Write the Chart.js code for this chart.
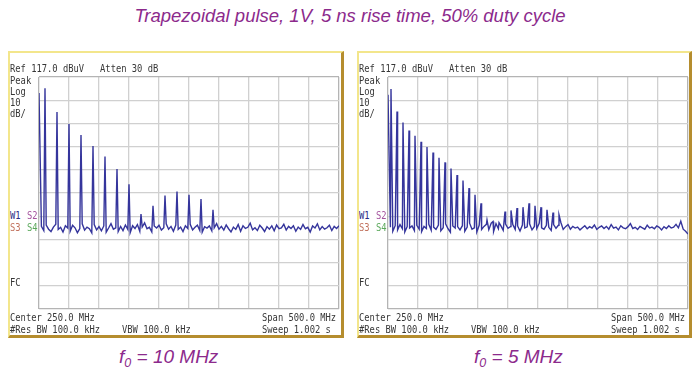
<!DOCTYPE html>
<html>
<head>
<meta charset="utf-8">
<script src="https://cdn.jsdelivr.net/npm/chart.js@4.4.1/dist/chart.umd.min.js"></script>
<style>
  body { margin: 0; background: #fff; }
  #page { position: relative; width: 700px; height: 385px; overflow: hidden; background: #fff; }
  .title { position: absolute; left: 0; width: 700px; top: 5px; text-align: center;
           font: italic 18.5px "Liberation Sans", Arial, sans-serif; color: #8c2a8c; }
  .fzero { position: absolute; top: 346px; font: italic 19px "Liberation Sans", Arial, sans-serif;
           color: #8c2a8c; white-space: pre; }
  .fzero sub { font-size: 12.5px; vertical-align: -4px; }
  .panel { position: absolute; top: 51px; height: 287px; box-sizing: border-box; background: #fff;
           border-top: 2px solid #f3e68c; border-left: 2px solid #f3e68c;
           border-right: 3px solid #b58d2e; border-bottom: 3px solid #b58d2e; }
  .plot { position: absolute; top: 73px; width: 308px; height: 240px; }
  .t { position: absolute; font: 8.8px "DejaVu Sans Mono", monospace; color: #363636;
       white-space: pre; line-height: 10px; transform: scaleY(1.15); transform-origin: left center; }
</style>
</head>
<body>
<div id="page">
  <div class="title">Trapezoidal pulse, 1V, 5 ns rise time, 50% duty cycle</div>
  <div class="panel" style="left:8px; width:336px;"></div>
  <div class="panel" style="left:357px; width:335px;"></div>
  <div class="plot" style="left:35px;"><canvas id="left"></canvas></div>
  <div class="plot" style="left:384px;"><canvas id="right"></canvas></div>
  <div class="fzero" style="left:119px;">f<sub>0</sub> = 10 MHz</div>
  <div class="fzero" style="left:474px;">f<sub>0</sub> = 5 MHz</div>
</div>
<script>
// frequency axis 0..500 MHz, 10 div; level axis 17..117 dBuV, 10 dB/div
var xTicks = [0, 50, 100, 150, 200, 250, 300, 350, 400, 450, 500];
var yTicks = [17, 27, 37, 47, 57, 67, 77, 87, 97, 107, 117];
var floorStep = 4; // MHz between noise floor samples, first one at 4 MHz

// f0 = 10 MHz: odd harmonics (plus LO feedthrough at 0)
var leftSpikeFreq = [0, 10, 30, 50, 70, 90, 110, 130, 150, 170, 190, 210, 230, 250, 270, 290];
var leftSpikeLevel = [110.1, 112.2, 101.9, 96.7, 92.0, 87.3, 82.7, 77.3, 70.8, 57.9, 61.5, 65.9, 67.6, 66.2, 64.4, 59.8];
var leftFloor = [
    52.6, 50.8, 53.2, 51.4, 50.4, 52.3, 53.5, 51.3, 52.2, 50.2,
    52.9, 51.9, 50.5, 53.1, 52.0, 49.9, 51.7, 53.7, 51.0, 52.3,
    51.6, 49.8, 53.4, 51.1, 52.5, 50.7, 52.8, 50.1, 51.9, 53.8,
    51.4, 52.0, 50.4, 52.6, 50.8, 53.2, 51.3, 49.9, 52.9, 51.7,
    53.4, 50.5, 52.3, 54.1, 51.6, 52.2, 50.2, 52.8, 51.9, 53.1,
    51.0, 52.0, 53.7, 51.4, 52.6, 50.5, 53.2, 51.3, 52.3, 50.4,
    52.9, 51.7, 53.5, 51.1, 52.2, 53.1, 50.8, 50.1, 52.5, 51.9,
    52.8, 50.7, 52.0, 53.8, 51.4, 52.6, 51.0, 53.2, 51.6, 50.2,
    52.3, 51.3, 53.4, 50.5, 52.9, 51.7, 52.2, 54.0, 51.1, 52.0,
    50.8, 53.1, 51.9, 50.4, 52.5, 51.4, 52.8, 50.7, 53.2, 51.6,
    52.0, 53.5, 51.0, 52.6, 51.7, 52.9, 50.5, 52.3, 51.3, 53.4,
    51.6, 52.2, 50.2, 52.8, 51.9, 53.7, 51.1, 52.5, 51.4, 52.0,
    53.1, 50.8, 52.6, 51.7, 52.9
];

// f0 = 5 MHz
var rightSpikeFreq = [0, 5, 15, 25, 35, 45, 55, 65, 75, 85, 95, 105, 115, 125, 135, 145,
    155, 165, 175, 185, 195, 205, 215, 225, 235, 245, 255, 265, 275, 285];
var rightSpikeLevel = [109.3, 111.8, 102.1, 97.4, 93.9, 91.7, 89.1, 86.8, 84.5, 82.2, 80.2, 77.6, 74.8, 72.4, 69.1, 66.2,
    62.6, 55.4, 54.7, 54.2, 59.0, 59.5, 60.5, 60.9, 62.6, 61.5, 60.9, 59.8, 58.6, 57.6];
var rightFloor = [
    52.2, 50.5, 52.9, 51.1, 53.4, 51.6, 50.2, 52.5, 51.9, 52.8,
    50.8, 53.1, 51.4, 50.4, 52.6, 51.7, 53.5, 51.0, 52.3, 51.3,
    53.2, 50.7, 52.0, 53.7, 51.6, 50.1, 52.8, 51.9, 52.5, 51.1,
    52.9, 50.5, 52.3, 54.0, 51.4, 52.0, 50.2, 53.1, 51.3, 52.6,
    53.5, 51.2, 54.0, 50.4, 53.8, 51.6, 52.9, 50.9, 53.6, 51.8,
    52.5, 53.4, 51.3, 52.8, 50.6, 53.2, 51.9, 52.4, 53.7, 51.1,
    52.6, 51.7, 53.9, 52.0, 51.4, 53.1, 52.2, 50.9, 53.4, 51.8,
    53.1, 54.4, 51.3, 52.5, 53.4, 51.4, 52.6, 51.9, 52.3, 51.1,
    52.0, 52.9, 51.6, 52.5, 51.9, 53.2, 51.3, 52.2, 52.8, 51.7,
    52.6, 51.4, 53.4, 51.9, 52.3, 51.1, 52.9, 52.0, 51.6, 52.5,
    53.8, 51.7, 52.2, 51.3, 52.6, 52.0, 51.4, 53.1, 51.9, 52.3,
    51.6, 52.8, 52.2, 51.1, 52.5, 51.7, 52.9, 51.9, 52.3, 53.5,
    52.0, 54.8, 51.4, 50.5, 49.3
];

var traceColor = '#35359c';

function buildTrace(floor, spikeFreq, spikeLevel) {
    var pts = [];
    for (var i = 0; i < floor.length; i++) {
        pts.push({ x: floorStep * (i + 1), y: floor[i] });
    }
    for (var j = 0; j < spikeFreq.length; j++) {
        pts.push({ x: spikeFreq[j], y: spikeLevel[j] });
    }
    pts.sort((a, b) => a.x - b.x);
    return pts;
}

function gridColor(ctx) {
    return (ctx.index === 0 || ctx.index === 10) ? '#b4b4b4' : '#d0d0d0';
}

function makeChart(id, floor, spikeFreq, spikeLevel) {
    return new Chart(document.getElementById(id), {
        type: 'line',
        data: {
            datasets: [{
                data: buildTrace(floor, spikeFreq, spikeLevel),
                borderColor: traceColor,
                borderWidth: 1.4,
                pointRadius: 0,
                tension: 0,
                fill: false
            }]
        },
        options: {
            responsive: true,
            maintainAspectRatio: false,
            animation: false,
            events: [],
            layout: { padding: 4 },
            plugins: { legend: { display: false }, tooltip: { enabled: false } },
            scales: {
                x: {
                    type: 'linear', min: 0, max: 500,
                    afterBuildTicks: (axis) => { axis.ticks = xTicks.map(v => ({ value: v })); },
                    ticks: { display: false },
                    border: { display: false },
                    grid: { color: gridColor, lineWidth: 1.3, drawTicks: false }
                },
                y: {
                    type: 'linear', min: 17, max: 117,
                    afterBuildTicks: (axis) => { axis.ticks = yTicks.map(v => ({ value: v })); },
                    ticks: { display: false },
                    border: { display: false },
                    grid: { color: gridColor, lineWidth: 1.3, drawTicks: false }
                }
            }
        }
    });
}

makeChart('left', leftFloor, leftSpikeFreq, leftSpikeLevel);
makeChart('right', rightFloor, rightSpikeFreq, rightSpikeLevel);

// analyzer annotation text, same on both screens
var labels = [
    { dx: 0, y: 64, text: 'Ref 117.0 dBuV   Atten 30 dB' },
    { dx: 0, y: 76, text: 'Peak' },
    { dx: 0, y: 87, text: 'Log' },
    { dx: 0, y: 98, text: '10' },
    { dx: 0, y: 109, text: 'dB/' },
    { dx: 0, y: 211, text: 'W1', color: '#2c2c86' },
    { dx: 17, y: 211, text: 'S2', color: '#a4539e' },
    { dx: 0, y: 223, text: 'S3', color: '#c2735f' },
    { dx: 17, y: 223, text: 'S4', color: '#5aa85a' },
    { dx: 0, y: 278, text: 'FC' },
    { dx: 0, y: 313, text: 'Center 250.0 MHz' },
    { dx: 252, y: 313, text: 'Span 500.0 MHz' },
    { dx: 0, y: 325, text: '#Res BW 100.0 kHz' },
    { dx: 112, y: 325, text: 'VBW 100.0 kHz' },
    { dx: 252, y: 325, text: 'Sweep 1.002 s' }
];
var page = document.getElementById('page');
[10, 359].forEach(x0 => {
    labels.forEach(l => {
        var d = document.createElement('div');
        d.className = 't';
        d.style.left = (x0 + l.dx) + 'px';
        d.style.top = l.y + 'px';
        if (l.color) d.style.color = l.color;
        d.textContent = l.text;
        page.appendChild(d);
    });
});
</script>
</body>
</html>
